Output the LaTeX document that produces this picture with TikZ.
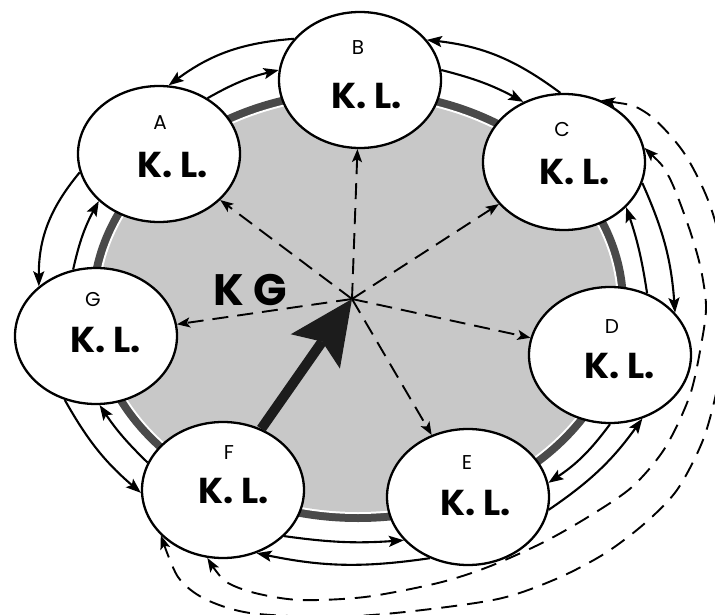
\documentclass[tikz,border=0pt]{standalone}
\usepackage{fontspec}
\setmainfont{Poppins}
\usetikzlibrary{arrows.meta,shapes.geometric}
\definecolor{diskgray}{HTML}{C8C8C8}
\definecolor{bandgray}{HTML}{4A4A4A}
\definecolor{arrowblack}{HTML}{1C1C1C}
\begin{document}
\begin{tikzpicture}[x=1pt,y=-1pt,
  klnode/.style={ellipse,draw=black,fill=white,line width=2.3pt,minimum width=162pt,minimum height=136pt,inner sep=0pt},
  lettertxt/.style={inner sep=0pt,font=\fontsize{20}{20}\selectfont},
  kltxt/.style={inner sep=0pt,font=\fontsize{36}{36}\selectfont\bfseries},
  ringarrow/.style={line width=2.1pt,-{Stealth[length=15pt,width=11pt,inset=3pt]}},
  spoke/.style={line width=1.9pt,dash pattern=on 16pt off 9pt,-{Stealth[length=13pt,width=10pt,inset=3pt]}},
  looparrow/.style={line width=1.9pt,dash pattern=on 16pt off 10pt,{Stealth[length=14pt,width=10pt,inset=3pt]}-{Stealth[length=14pt,width=10pt,inset=3pt]}},
]
\useasboundingbox (0,0) rectangle (715,615);
\clip (0,0) rectangle (715,615);
% central disk
\fill[bandgray] (358,305) ellipse [x radius=269pt, y radius=217pt];
\fill[white] (358,305) ellipse [x radius=261pt, y radius=209pt];
\fill[diskgray] (358,305) ellipse [x radius=259pt, y radius=207pt];
\coordinate (hub) at (352,299);
% nodes
\node[klnode] (A) at (159,154) {};
\node[klnode] (B) at (360,80) {};
\node[klnode] (C) at (564,162) {};
\node[klnode] (D) at (610,355) {};
\node[klnode] (E) at (468,497) {};
\node[klnode] (F) at (223,490) {};
\node[klnode] (G) at (96,336) {};
% texts
\node[lettertxt] (Al) at (160,123) {A};
\node[kltxt] (Ak) at (173,165) {K. L.};
\node[lettertxt] (Bl) at (358,48) {B};
\node[kltxt] (Bk) at (367,96) {K. L.};
\node[lettertxt] (Cl) at (562,130) {C};
\node[kltxt] (Ck) at (575,172) {K. L.};
\node[lettertxt] (Dl) at (612,327) {D};
\node[kltxt] (Dk) at (620,366) {K. L.};
\node[lettertxt] (El) at (467,463) {E};
\node[kltxt] (Ek) at (476,503) {K. L.};
\node[lettertxt] (Fl) at (229,453) {F};
\node[kltxt] (Fk) at (234,491) {K. L.};
\node[lettertxt] (Gl) at (93,300) {G};
\node[kltxt] (Gk) at (106,340) {K. L.};
\node[inner sep=0pt,font=\fontsize{44}{44}\selectfont\bfseries] (KG) at (250,290) {K\hspace{9pt}G};
% spokes
\draw[spoke] (hub) -- (A);
\draw[spoke] (hub) -- (B);
\draw[spoke] (hub) -- (C);
\draw[spoke] (hub) -- (D);
\draw[spoke] (hub) -- (E);
\draw[spoke] (hub) -- (G);
% big arrow
\draw[line width=10pt,arrowblack,-{Stealth[length=64pt,width=60pt,inset=12pt,line width=0pt]}] (F.58) -- (hub);
% ring arrows
\draw[ringarrow] (A.49) to[bend left=8] (B.173);
\draw[ringarrow] (B.148) to[bend right=16] (A.82);
\draw[ringarrow] (B.7) to[bend left=7] (C.124);
\draw[ringarrow] (C.93) to[bend right=15] (B.31);
\draw[ringarrow] (C.345) to[bend left=10] (D.33);
\draw[ringarrow] (D.59) to[bend right=5] (C.324);
\draw[ringarrow] (D.270) to[bend left=10] (E.10);
\draw[ringarrow] (E.351) to[bend right=10] (D.297);
\draw[ringarrow] (E.238) to[bend left=10] (F.298);
\draw[ringarrow] (F.323) to[bend right=6] (E.214);
\draw[ringarrow] (F.160) to[bend left=6] (G.273);
\draw[ringarrow] (G.244) to[bend right=10] (F.182);
\draw[ringarrow] (G.109) to[bend left=8] (A.218);
\draw[ringarrow] (A.193) to[bend right=20] (G.139);
% dashed loops
\draw[looparrow] plot[smooth] coordinates {(C.59) (645,112) (682,150) (708,200) (725,260) (729,320) (718,385) (703,440) (677,490) (644,524) (604,554) (556,579) (498,599) (405,612) (330,617) (250,613) (205,599) (178,577) (F.216)};
\draw[looparrow] plot[smooth] coordinates {(C.10) (668,175) (687,222) (700,265) (706,305) (702,340) (690,395) (665,448) (632,487) (588,517) (542,543) (488,567) (438,583) (365,597) (300,600) (255,593) (225,581) (F.257)};
\end{tikzpicture}
\end{document}
